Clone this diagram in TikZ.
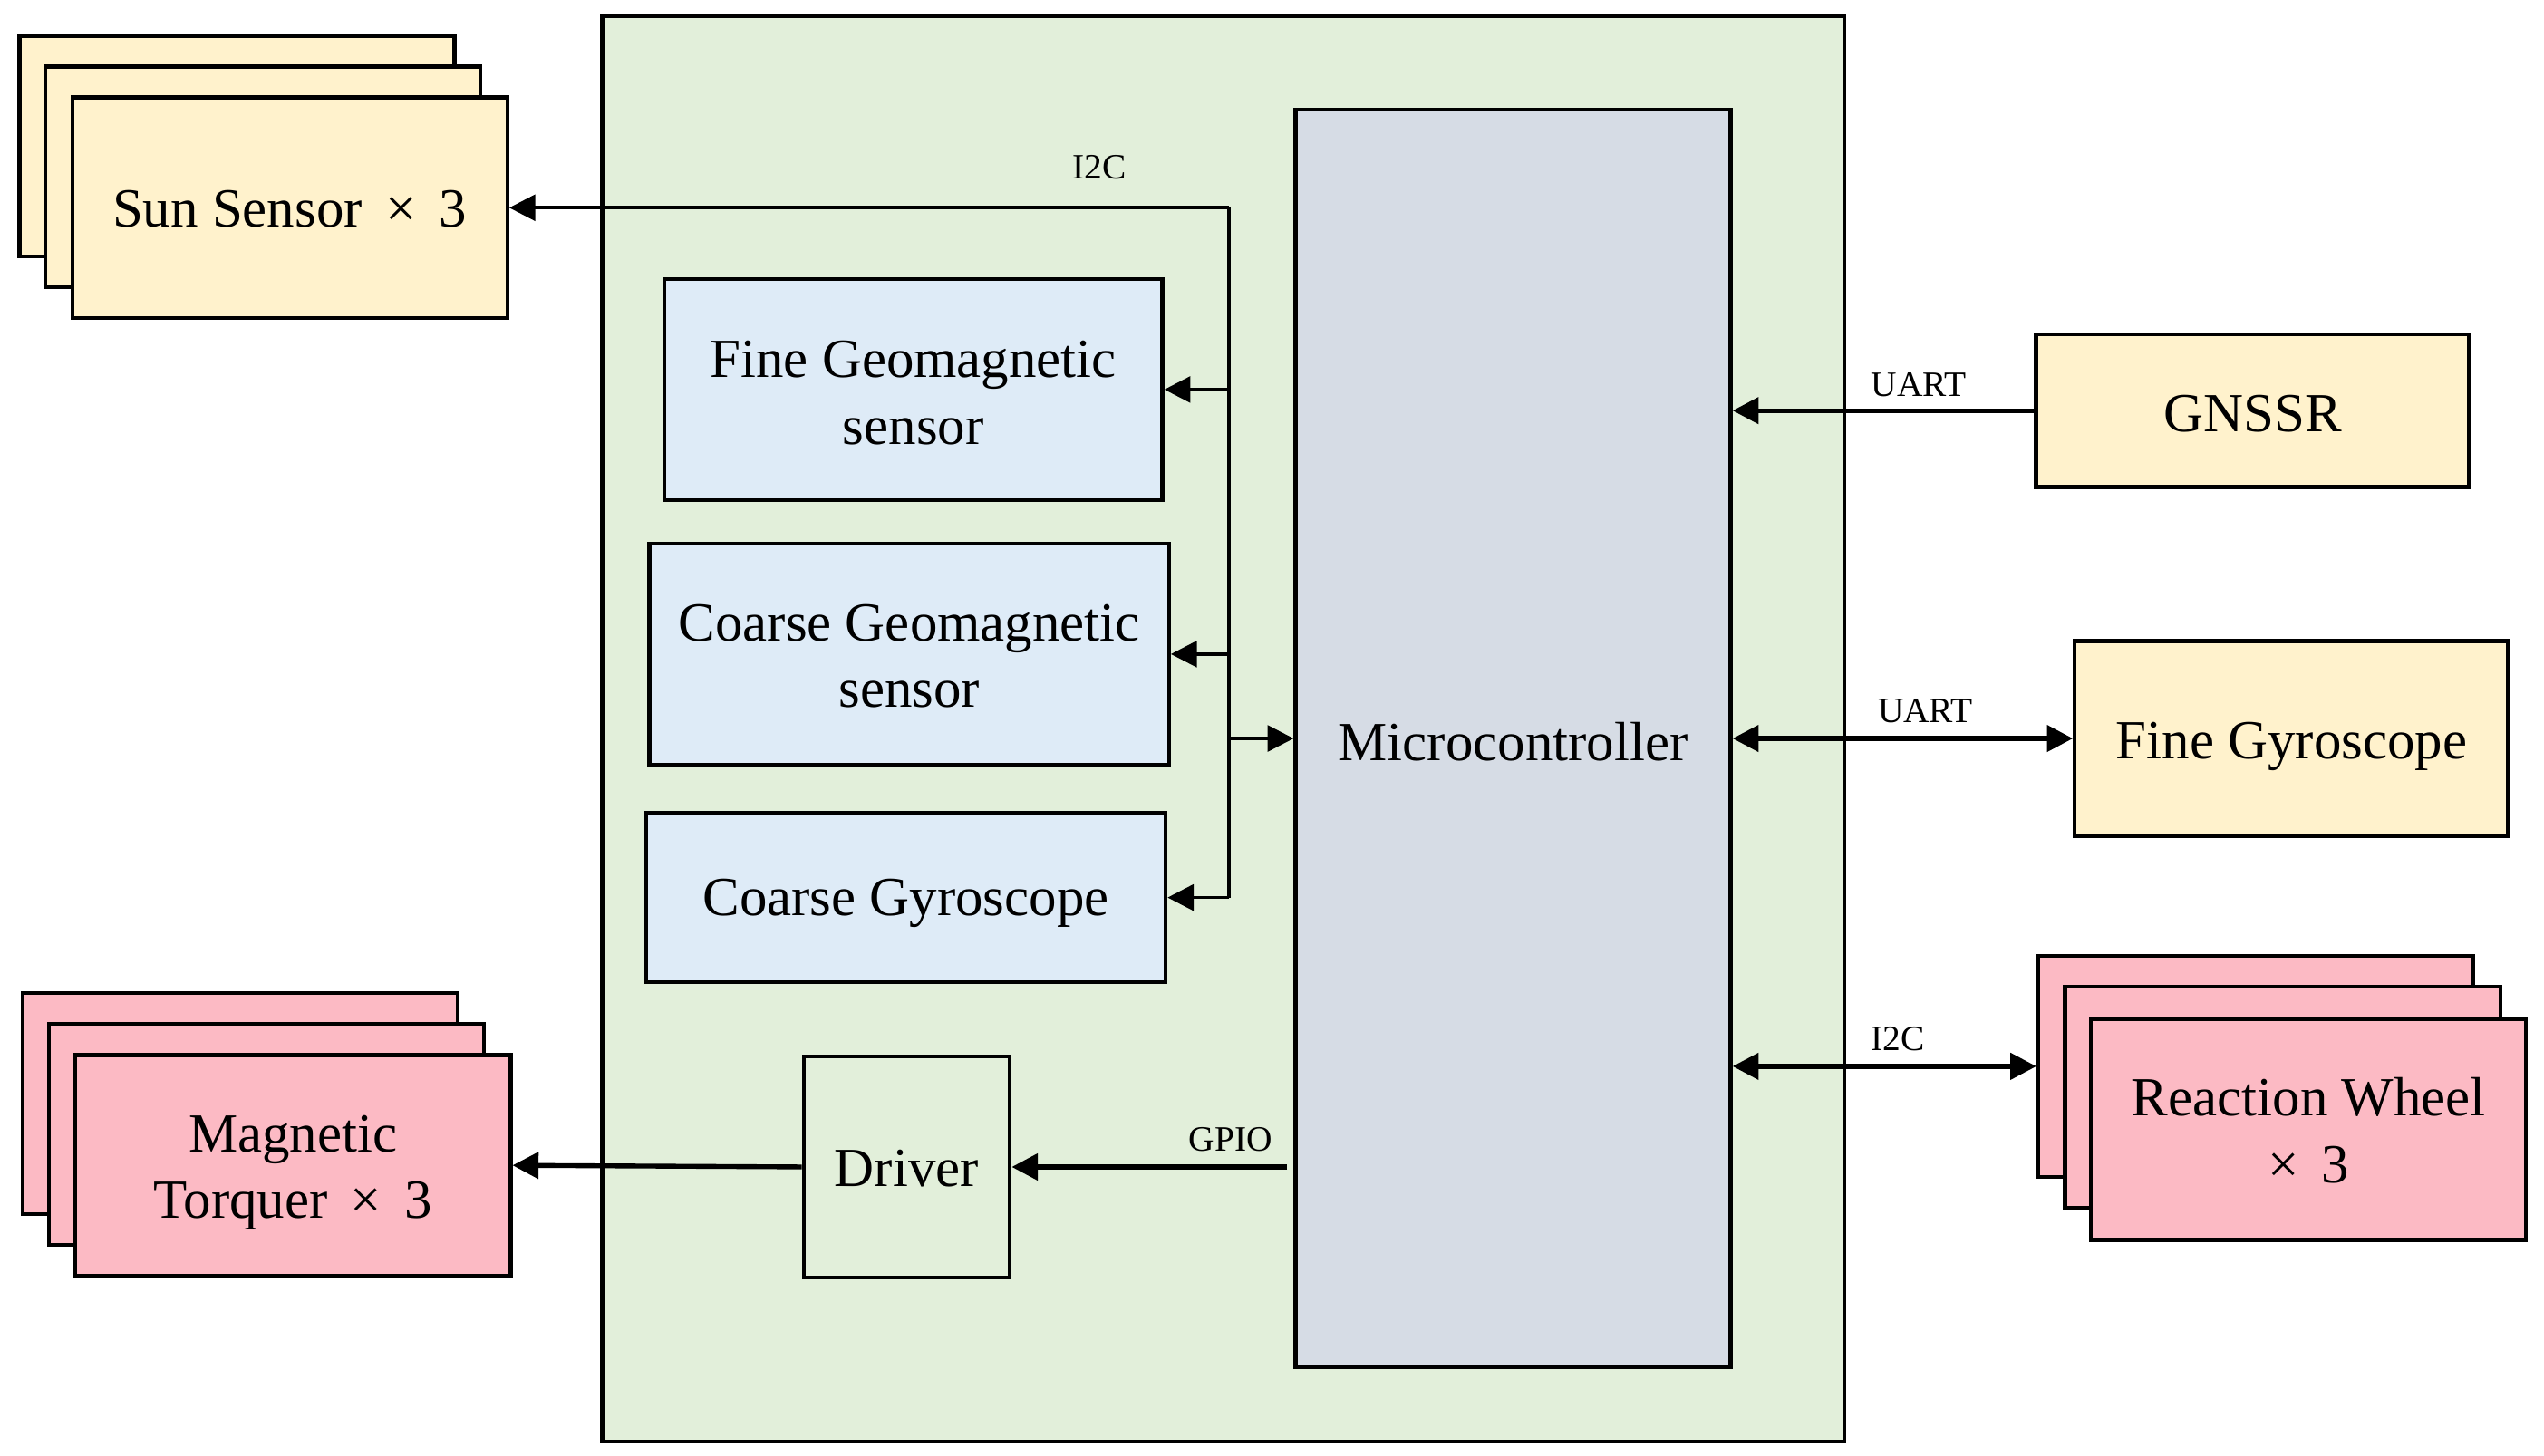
\documentclass[tikz,border=0pt]{standalone}
\usepackage{fontspec}
\setmainfont{Liberation Serif}
\usetikzlibrary{arrows.meta,calc}
\definecolor{cgreen}{HTML}{E2EFDA}
\definecolor{cyellow}{HTML}{FFF2CC}
\definecolor{cblue}{HTML}{DEEBF7}
\definecolor{cmicro}{HTML}{D6DCE5}
\definecolor{cpink}{HTML}{FCBAC4}
\tikzset{
  box/.style={draw=black, line width=1.2pt, inner sep=0pt},
  txt/.style={inner sep=0pt, align=center, font=\fontsize{17}{20.5}\selectfont},
  stackbox/.style={box, minimum width=134pt, minimum height=68pt},
  conn/.style={draw=black, line width=1pt},
  thickconn/.style={draw=black, line width=1.5pt},
  arr/.style={conn, -{Triangle[length=8pt,width=8pt]}},
  thickarr/.style={thickconn, -{Triangle[length=8pt,width=8pt]}},
  dblarr/.style={thickconn, {Triangle[length=8pt,width=8pt]}-{Triangle[length=8pt,width=8pt]}},
  lbl/.style={font=\fontsize{11}{13}\selectfont, inner sep=0pt}
}
\begin{document}
\begin{tikzpicture}[x=0.5pt, y=-0.5pt]
\useasboundingbox (0,0) rectangle (1567,897);
% main board
\node[box, fill=cgreen, minimum width=382.5pt, minimum height=439pt] (board) at (753.5,449) {};
% sun sensor stack
\node[stackbox, fill=cyellow] (ss1) at (146,90) {};
\node[stackbox, fill=cyellow] (ss2) at (162,109) {};
\node[stackbox, fill=cyellow, label={[txt,yshift=-0.3pt]center:Sun Sensor \,×\, 3}] (ss) at (178.5,128) {};
% magnetic torquer stack
\node[stackbox, fill=cpink] (mt1) at (148,680) {};
\node[stackbox, fill=cpink] (mt2) at (164,699) {};
\node[stackbox, fill=cpink, label={[txt,yshift=-2.2pt]center:{Magnetic\\Torquer \,×\, 3}}] (mt) at (180.5,718) {};
% reaction wheel stack
\node[stackbox, fill=cpink] (rw1) at (1389.5,657) {};
\node[stackbox, fill=cpink] (rw2) at (1406,676) {};
\node[stackbox, fill=cpink, label={[txt,yshift=-0.3pt]center:{Reaction Wheel\\×\, 3}}] (rw) at (1422,696) {};
% inner blocks
\node[box, fill=cblue, minimum width=153.5pt, minimum height=68pt, label={[txt,yshift=-1pt]center:{Fine Geomagnetic\\sensor}}] (fgs) at (562.5,240) {};
\node[box, fill=cblue, minimum width=160pt, minimum height=68pt, label={[txt,yshift=-0.6pt]center:{Coarse Geomagnetic\\sensor}}] (cgs) at (560,403) {};
\node[box, fill=cblue, minimum width=160pt, minimum height=52pt, label={[txt,yshift=-1.8pt]center:Coarse Gyroscope}] (cgy) at (558,553) {};
\node[box, fill=cgreen, minimum width=63.5pt, minimum height=68pt, label={[txt,yshift=-0.6pt]center:Driver}] (drv) at (558.5,719) {};
\node[box, fill=cmicro, minimum width=134pt, minimum height=387.5pt, label={[txt,yshift=-1pt]center:Microcontroller}] (mc) at (932,455) {};
% right blocks
\node[box, fill=cyellow, minimum width=133.5pt, minimum height=47pt, label={[txt,yshift=-1pt]center:GNSSR}] (gn) at (1387.5,253) {};
\node[box, fill=cyellow, minimum width=133.5pt, minimum height=60pt, label={[txt,yshift=-2.4pt]center:Fine Gyroscope}] (fg) at (1411.5,455) {};
% I2C bus
\coordinate (busT) at (757,128);
\draw[arr] (busT) -- (ss.east);
\draw[conn] (busT) -- (busT |- cgy.east);
\draw[arr] (busT |- fgs.east) -- (fgs.east);
\draw[arr] (busT |- cgs.east) -- (cgs.east);
\draw[arr] (busT |- cgy.east) -- (cgy.east);
\draw[arr] (busT |- mc.west) -- (mc.west);
\node[lbl] (l1) at (677,103) {I2C};
% GPIO / driver
\coordinate (gpioS) at ($(mc.west |- drv.east)+(-4,0)$);
\draw[thickarr] (gpioS) -- (drv.east);
\node[lbl] (l2) at (758,702) {GPIO};
\draw[thickarr] (drv.west) -- (mt.east);
% right side links
\draw[thickarr] (gn.west) -- (mc.east |- gn.west);
\node[lbl] (l3) at (1182,237) {UART};
\draw[dblarr] (mc.east |- fg.west) -- (fg.west);
\node[lbl] (l4) at (1186,438) {UART};
\draw[dblarr] (mc.east |- rw1.west) -- (rw1.west);
\node[lbl] (l5) at (1169,640) {I2C};
\end{tikzpicture}
\end{document}
